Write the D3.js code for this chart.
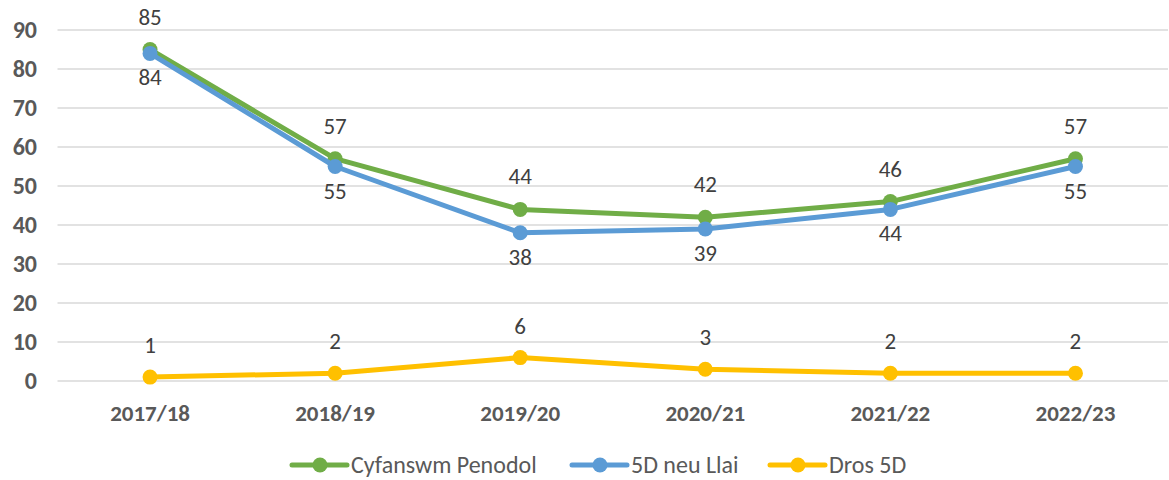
<!DOCTYPE html>
<html><head><meta charset="utf-8">
<script src="https://cdn.jsdelivr.net/npm/d3@7"></script>
<style>body{margin:0;background:#fff;} svg{display:block;font-family:Carlito,Calibri,"Open Sans","Liberation Sans",sans-serif;}</style>
</head><body><svg id="c" width="1169" height="480"></svg>
<script>
const categories = ["2017/18","2018/19","2019/20","2020/21","2021/22","2022/23"];
const total = [85,57,44,42,46,57];
const fiveOrLess = [84,55,38,39,44,55];
const overFive = [1,2,6,3,2,2];
const yTicks = [0,10,20,30,40,50,60,70,80,90];
const seriesNames = ["Cyfanswm Penodol","5D neu Llai","Dros 5D"];
const colors = ["#70AD47","#5B9BD5","#FFC000"];

const svg = d3.select("#c");
const x = d3.scaleBand().domain(categories).range([57.5,1168]);
const y = d3.scaleLinear().domain([0,90]).range([381,30]);

svg.append("g").selectAll("line").data(yTicks).join("line")
  .attr("x1",57.5).attr("x2",1168).attr("y1",d=>y(d)).attr("y2",d=>y(d))
  .attr("stroke","#d9d9d9").attr("stroke-width",1.5);
svg.append("g").selectAll("text").data(yTicks).join("text")
  .attr("x",37).attr("y",d=>y(d)).attr("dy","0.35em").attr("text-anchor","end")
  .attr("font-size",24).attr("font-weight","bold").attr("fill","#595959").text(d=>d);
svg.append("g").selectAll("text").data(categories).join("text")
  .attr("x",d=>x(d)+x.bandwidth()/2).attr("y",413).attr("dy","0.35em").attr("text-anchor","middle")
  .attr("font-size",23).attr("font-weight","bold").attr("fill","#595959").text(d=>d);

const series = [
  {vals: total, color: colors[0], off: -33},
  {vals: fiveOrLess, color: colors[1], off: 24},
  {vals: overFive, color: colors[2], off: -32}
];
const cx = c => x(c)+x.bandwidth()/2;
const line = d3.line().x((d,i)=>cx(categories[i])).y(d=>y(d));
series.forEach(s=>{
  const g = svg.append("g");
  g.append("path").datum(s.vals).attr("d",line).attr("fill","none")
    .attr("stroke",s.color).attr("stroke-width",5).attr("stroke-linejoin","round").attr("stroke-linecap","round");
  g.selectAll("circle").data(s.vals).join("circle")
    .attr("cx",(d,i)=>cx(categories[i])).attr("cy",d=>y(d)).attr("r",7.5).attr("fill",s.color);
});
series.forEach(s=>{
  svg.append("g").selectAll("text").data(s.vals).join("text")
    .attr("x",(d,i)=>cx(categories[i])).attr("y",d=>y(d)+s.off).attr("dy","0.35em").attr("text-anchor","middle")
    .attr("font-size",23).attr("fill","#404040").text(d=>d);
});

// legend
const lg = svg.append("g");
const legStart = [292, 572, 770];
seriesNames.forEach((n,i)=>{
  const g = lg.append("g").attr("transform",`translate(${legStart[i]},465)`);
  g.append("line").attr("x1",0).attr("x2",55).attr("stroke",colors[i]).attr("stroke-width",5).attr("stroke-linecap","round");
  g.append("circle").attr("cx",28).attr("r",7.5).attr("fill",colors[i]);
  g.append("text").attr("x",59).attr("dy","0.35em").attr("font-size",24).attr("fill","#595959").text(n);
});
</script></body></html>
